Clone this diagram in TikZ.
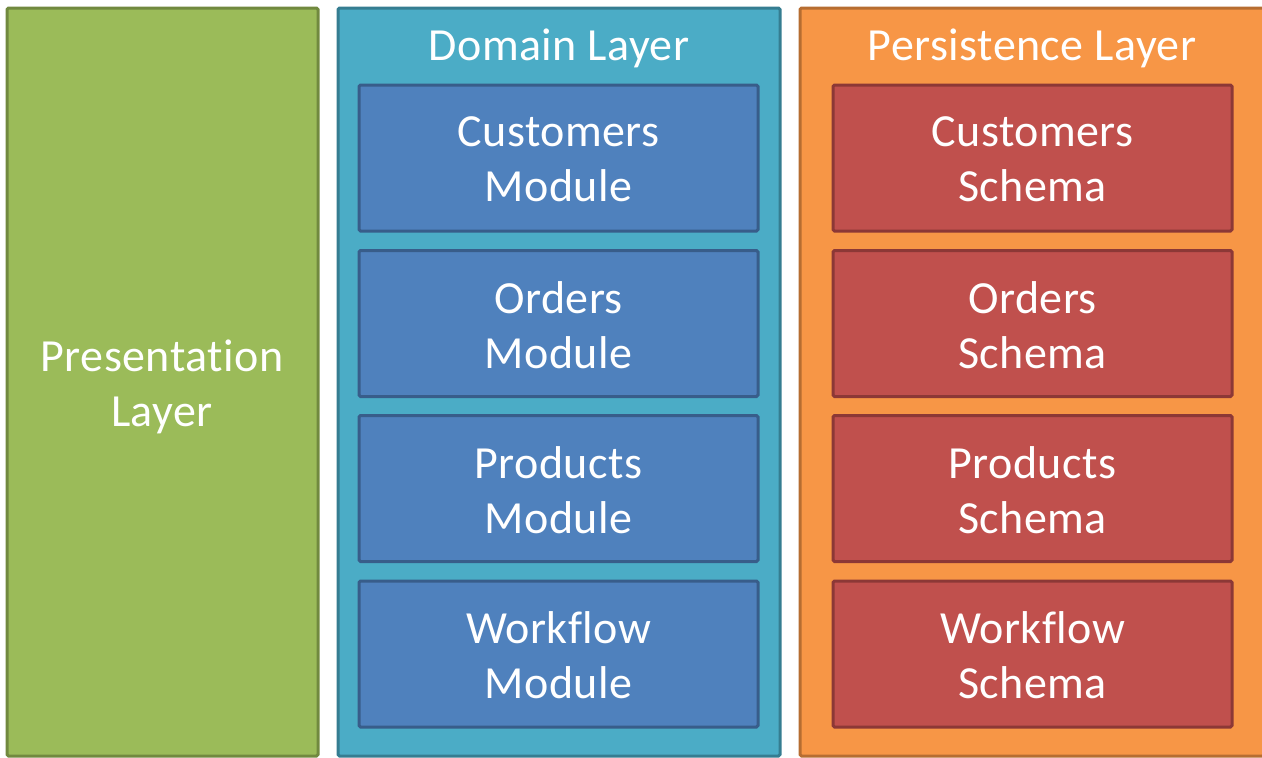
\documentclass[tikz,border=0pt]{standalone}
\usepackage{fontspec}
\setmainfont{Carlito}[Ligatures=NoCommon, LetterSpace=1.0]
\definecolor{gfill}{HTML}{9BBB59}\definecolor{gline}{HTML}{71893F}
\definecolor{tfill}{HTML}{4BACC6}\definecolor{tline}{HTML}{357D91}
\definecolor{bfill}{HTML}{4F81BD}\definecolor{bline}{HTML}{385D8A}
\definecolor{ofill}{HTML}{F79646}\definecolor{oline}{HTML}{B66D31}
\definecolor{rfill}{HTML}{C0504D}\definecolor{rline}{HTML}{8C3836}
\tikzset{
  boxbase/.style={rectangle, line width=3pt, rounded corners=1.5pt, inner sep=0pt, align=center,
    text=white, font=\fontsize{46}{55}\selectfont},
  layerbox/.style={boxbase, minimum height=748pt},
  modbox/.style={boxbase, fill=bfill, draw=bline, minimum width=399pt, minimum height=146pt},
  schbox/.style={boxbase, fill=rfill, draw=rline, minimum width=399pt, minimum height=146pt},
  titletext/.style={text=white, inner sep=0pt, font=\fontsize{46}{55}\selectfont},
  lbl/.style={text=white, inner sep=0pt, align=center, font=\fontsize{46}{55}\selectfont}
}
\begin{document}
\begin{tikzpicture}[x=1pt,y=-1pt]
\useasboundingbox (0,0) rectangle (1262,758);
\node[layerbox, fill=gfill, draw=gline, minimum width=311pt] (pres) at (162.5,382) {};
\node[lbl] (prest) at (162,387) {Presentation\\Layer};
\node[layerbox, fill=tfill, draw=tline, minimum width=442pt] (dom) at (559,382) {};
\node[layerbox, fill=ofill, draw=oline, minimum width=464pt] (pers) at (1032,382) {};
\node[titletext] (domt) at (559,48) {Domain Layer};
\node[titletext] (perst) at (1032,48) {Persistence Layer};
\node[modbox] (m1) at (558.5,158) {};
\node[modbox] (m2) at (558.5,323.5) {};
\node[modbox] (m3) at (558.5,488.5) {};
\node[modbox] (m4) at (558.5,654) {};
\node[schbox] (s1) at (1032.5,158) {};
\node[schbox] (s2) at (1032.5,323.5) {};
\node[schbox] (s3) at (1032.5,488.5) {};
\node[schbox] (s4) at (1032.5,654) {};
\node[lbl] (m1t) at ([yshift=-1.5pt]m1.center) {Customers\\Module};
\node[lbl] (m2t) at ([yshift=-1.5pt]m2.center) {Orders\\Module};
\node[lbl] (m3t) at ([yshift=-1.5pt]m3.center) {Products\\Module};
\node[lbl] (m4t) at ([yshift=-1.5pt]m4.center) {Workflow\\Module};
\node[lbl] (s1t) at ([yshift=-1.5pt]s1.center) {Customers\\Schema};
\node[lbl] (s2t) at ([yshift=-1.5pt]s2.center) {Orders\\Schema};
\node[lbl] (s3t) at ([yshift=-1.5pt]s3.center) {Products\\Schema};
\node[lbl] (s4t) at ([yshift=-1.5pt]s4.center) {Workflow\\Schema};
\end{tikzpicture}
\end{document}
